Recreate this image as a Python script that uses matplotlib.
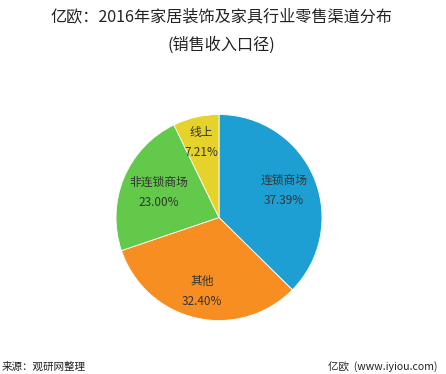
import matplotlib
matplotlib.use("Agg")
import matplotlib.pyplot as plt
import numpy as np

plt.rcParams['font.family'] = ['Noto Sans CJK SC', 'DejaVu Sans']

categories = ['连锁商场', '其他', '非连锁商场', '线上']
values = [37.39, 32.40, 23.00, 7.21]
colors = ['#1e9fd3', '#f78e22', '#63c94a', '#e5d22a']
label_r = [0.68, 0.74, 0.63, 0.75]

W, H = 446, 374
fig = plt.figure(figsize=(W/100, H/100), dpi=100)
cx, cy, R = 219, 217.5, 103
ax = fig.add_axes([(cx-R)/W, (H-cy-R)/H, 2*R/W, 2*R/H])
wedges, _ = ax.pie(values, colors=colors, startangle=90, counterclock=False,
                   wedgeprops=dict(edgecolor='white', linewidth=0.6), radius=1)
ax.set_xlim(-1, 1); ax.set_ylim(-1, 1)
ax.set_aspect('equal')
ax.axis('off')

for w, name, v, r in zip(wedges, categories, values, label_r):
    ang = np.deg2rad((w.theta1 + w.theta2) / 2)
    x, y = r*np.cos(ang), r*np.sin(ang)
    ax.text(x, y, f'{name}\n{v:.2f}%', ha='center', va='center', fontsize=8.5,
            color='#333333', linespacing=1.7)

fig.text(221/W, 1-17/H, '亿欧：2016年家居装饰及家具行业零售渠道分布', ha='center', va='center',
         fontsize=11.6, color='#222222')
fig.text(221/W, 1-45/H, '(销售收入口径)', ha='center', va='center',
         fontsize=11.6, color='#222222')
fig.text(2/W, 1-367/H, '来源：观研网整理', ha='left', va='center', fontsize=7.6, color='#222222')
fig.text(438/W, 1-367/H, '亿欧  (www.iyiou.com)', ha='right', va='center', fontsize=7.6, color='#222222')

fig.savefig('out.png', dpi=100, facecolor='white')
